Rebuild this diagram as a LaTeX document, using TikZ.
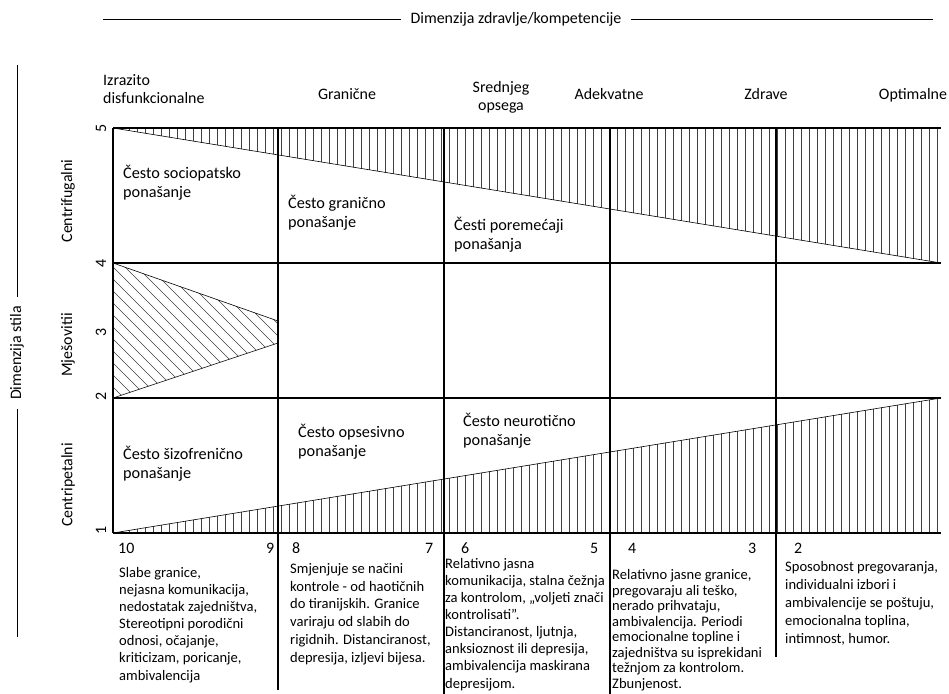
\documentclass[tikz,border=0pt]{standalone}
\usepackage{fontspec}
\setmainfont{Carlito}
\usetikzlibrary{positioning}

\begin{document}
\begin{tikzpicture}[x=1bp,y=-1bp,
    grid/.style={line width=1.3bp},
    edge/.style={line width=0.6bp},
    hatch/.style={line width=0.5bp,black!75},
    cell/.style={anchor=base west,align=left,inner sep=0pt,font=\fontsize{16.3}{19.5}\selectfont},
    head/.style={anchor=base,align=center,inner sep=0pt,font=\fontsize{16}{18.5}\selectfont},
    desc/.style={anchor=base west,align=left,inner sep=0pt,font=\fontsize{14.6}{17.2}\selectfont},
    axis/.style={rotate=90,inner sep=0pt,font=\fontsize{16}{18}\selectfont}]
  \useasboundingbox (0,0) rectangle (949,694);

  \node[head,anchor=center,inner xsep=9bp] (zdravlje) at (516,19) {Dimenzija zdravlje/kompetencije};
  \draw[edge] (103,19) -- (zdravlje.west);
  \draw[edge] (zdravlje.east) -- (933,19);

  \node[axis,inner xsep=9bp] (stil) at (17,353) {Dimenzija stila};
  \draw[edge] (17,65) -- (stil.east);
  \draw[edge] (stil.west) -- (17,637);

  \node[axis] (cfug) at (68,201) {Centrifugalni};
  \node[axis] (mjes) at (68,345) {Mješovitii};
  \node[axis] (cpet) at (68,485) {Centripetalni};
  \foreach \v/\y in {5/128,4/263,3/332,2/396,1/530}
    \node[axis] (s\v) at (101,\y) {\v};

  \node[head,anchor=base west,align=left] (izrazito) at (103,103.5) {Izrazito\\disfunkcionalne};
  \node[head] (granicne) at (347,100) {Granične};
  \node[head] (srednjeg) at (501,110.5) {Srednjeg\\opsega};
  \node[head] (adekvatne) at (609,100) {Adekvatne};
  \node[head] (zdrave) at (766,100) {Zdrave};
  \node[head] (optimalne) at (913,100) {Optimalne};

  \begin{scope}
    \clip (113,128) -- (941,128) -- (941,263) -- cycle;
    \foreach \x in {121,129,...,941} \draw[hatch] (\x,128) -- (\x,263);
  \end{scope}
  \draw[edge] (113,128) -- (941,263);

  \begin{scope}
    \clip (113,533) -- (941,398) -- (941,533) -- cycle;
    \foreach \x in {121,129,...,941} \draw[hatch] (\x,398) -- (\x,533);
  \end{scope}
  \draw[edge] (113,533) -- (941,398);

  \begin{scope}
    \clip (113,263) -- (278,321) -- (278,343) -- (113,398) -- cycle;
    \foreach \a in {-40,-28,...,230} \draw[hatch] (\a,258) -- (\a+145,403);
  \end{scope}
  \draw[edge] (113,263) -- (278,321);
  \draw[edge] (113,398) -- (278,343);

  \foreach \y in {128,263,398,533} \draw[grid] (113,\y) -- (941,\y);
  \draw[grid] (113,128) -- (113,533);
  \foreach \x/\e in {278/690,444/694,610/694,776/657} \draw[grid] (\x,128) -- (\x,\e);

  \node[cell] (sociopatsko) at (123,197.5) {Često sociopatsko\\ponašanje};
  \node[cell] (granicno) at (288,227.5) {Često granično\\ponašanje};
  \node[cell] (poremecaji) at (454,249.5) {Česti poremećaji\\ponašanja};
  \node[cell] (sizofrenicno) at (123,478.5) {Često šizofrenično\\ponašanje};
  \node[cell] (opsesivno) at (298,456.5) {Često opsesivno\\ponašanje};
  \node[cell] (neuroticno) at (463,445.5) {Često neurotično\\ponašanje};

  \foreach \n/\x in {10/118,9/266,8/292,7/425,6/461,5/590,4/628,3/748,2/794}
    \node[head,anchor=base west] (n\n) at (\x,553) {\n};

  \node[desc] (d10) at (119,680) {Slabe granice,\\nejasna komunikacija,\\nedostatak zajedništva,\\Stereotipni porodični\\odnosi, očajanje,\\kriticizam, poricanje,\\ambivalencija};
  \node[desc,font=\fontsize{14.6}{17.8}\selectfont] (d8) at (290,662) {Smjenjuje se načini\\kontrole - od haotičnih\\do tiranijskih. Granice\\variraju od slabih do\\rigidnih. Distanciranost,\\depresija, izljevi bijesa.};
  \node[desc] (d6) at (445,688) {Relativno jasna\\komunikacija, stalna čežnja\\za kontrolom, „voljeti znači\\kontrolisati”.\\Distanciranost, ljutnja,\\anksioznost ili depresija,\\ambivalencija maskirana\\depresijom.};
  \node[desc,font=\fontsize{14.6}{15.5}\selectfont] (d4) at (612,688) {Relativno jasne granice,\\pregovaraju ali teško,\\nerado prihvataju,\\ambivalencija. Periodi\\emocionalne topline i\\zajedništva su isprekidani\\težnjom za kontrolom.\\Zbunjenost.};
  \node[desc,font=\fontsize{14.6}{18}\selectfont] (d2) at (785,643) {Sposobnost pregovaranja,\\individualni izbori i\\ambivalencije se poštuju,\\emocionalna toplina,\\intimnost, humor.};
\end{tikzpicture}
\end{document}
